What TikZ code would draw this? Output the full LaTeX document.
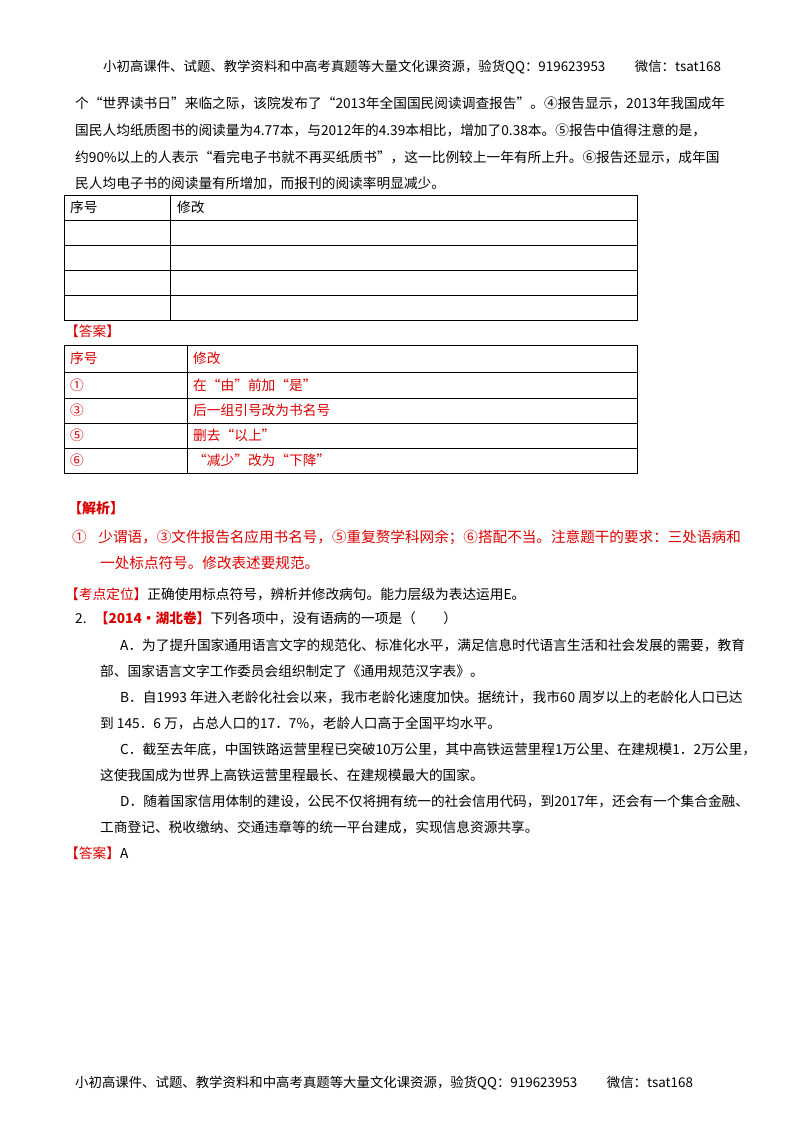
\documentclass[tikz,border=0pt]{standalone}
\usepackage{fontspec}
\setmainfont{Noto Sans CJK SC}
\newcommand{\fl}[2]{#2}
\begin{document}
\begin{tikzpicture}[x=1pt,y=-1pt,
  t/.style={anchor=west,inner sep=0pt,font=\fontsize{13.7}{14}\selectfont},
  r/.style={t,text=red!85!black},
  tl/.style={line width=0.6pt}]
\useasboundingbox (0,0) rectangle (800,1132);
\node[t,font=\fontsize{13.4}{14}\selectfont] (hd) at (103,67) {小初高课件、试题、教学资料和中高考真题等大量文化课资源，验货QQ：919623953\hspace{2.2em}微信：tsat168};
\node[t] (p1) at (75,103) {个“世界读书日”来临之际，该院发布了“2013年全国国民阅读调查报告”。④报告显示，2013年我国成年};
\node[t] (p2) at (75,130) {国民人均纸质图书的阅读量为4.77本，与2012年的4.39本相比，增加了0.38本。⑤报告中值得注意的是，};
\node[t] (p3) at (75,157) {约90\%以上的人表示“看完电子书就不再买纸质书”，这一比例较上一年有所上升。⑥报告还显示，成年国};
\node[t] (p4) at (75,183) {民人均电子书的阅读量有所增加，而报刊的阅读率明显减少。};
% table 1
\draw[tl] (64,195) rectangle (637,320);
\foreach \y in {220,245,270,295} \draw[tl] (64,\y) -- (637,\y);
\draw[tl] (170,195) -- (170,320);
\node[t] (h1) at (70,207) {序号};
\node[t] (h2) at (177,207) {修改};
\node[r] (a1) at (65,331) {【答案】};
% table 2
\draw[line width=1pt] (64,345) rectangle (637,473);
\foreach \y in {372,398,423,448} \draw[line width=1pt] (64,\y) -- (637,\y);
\draw[line width=1pt] (187,345) -- (187,473);
\node[r] at (70,358) {序号};
\node[r] at (193,358) {修改};
\node[r] at (70,385) {①};
\node[r] at (193,385) {在“由”前加“是”};
\node[r] at (70,410) {③};
\node[r] at (193,410) {后一组引号改为书名号};
\node[r] at (70,435) {⑤};
\node[r] at (193,435) {删去“以上”};
\node[r] at (70,460) {⑥};
\node[r] at (193,460) {“减少”改为“下降”};
\node[r,font=\fontsize{14}{15}\selectfont\bfseries] (jx) at (68,508) {【解析】};
\node[r,font=\fontsize{14.6}{15}\selectfont] (j1) at (72,537) {①\hspace{0.8em}少谓语，③文件报告名应用书名号，⑤重复赘学科网余；⑥搭配不当。注意题干的要求：三处语病和};
\node[r,font=\fontsize{14.6}{15}\selectfont] (j2) at (100,563) {一处标点符号。修改表述要规范。};
\node[t] (kd) at (65,594) {\textcolor{red!85!black}{【考点定位】}正确使用标点符号，辨析并修改病句。能力层级为表达运用E。};
\node[t] (q2) at (75,618) {2.\hspace{0.6em}\textcolor{red!85!black}{\bfseries【2014·湖北卷】}下列各项中，没有语病的一项是（\hspace{2em}）};
\node[t] at (120,645) {A．为了提升国家通用语言文字的规范化、标准化水平，满足信息时代语言生活和社会发展的需要，教育};
\node[t] at (100,671) {部、国家语言文字工作委员会组织制定了《通用规范汉字表》。};
\node[t] at (120,697) {B．自1993 年进入老龄化社会以来，我市老龄化速度加快。据统计，我市60 周岁以上的老龄化人口已达};
\node[t] at (100,723) {到 145．6 万，占总人口的17．7\%，老龄人口高于全国平均水平。};
\node[t] at (120,749) {C．截至去年底，中国铁路运营里程已突破10万公里，其中高铁运营里程1万公里、在建规模1．2万公里，};
\node[t] at (100,775) {这使我国成为世界上高铁运营里程最长、在建规模最大的国家。};
\node[t] at (120,801) {D．随着国家信用体制的建设，公民不仅将拥有统一的社会信用代码，到2017年，还会有一个集合金融、};
\node[t] at (100,827) {工商登记、税收缴纳、交通违章等的统一平台建成，实现信息资源共享。};
\node[t] (a2) at (65,853) {\textcolor{red!85!black}{【答案】}A};
\node[t,font=\fontsize{13.4}{14}\selectfont] (ft) at (75,1083) {小初高课件、试题、教学资料和中高考真题等大量文化课资源，验货QQ：919623953\hspace{2.2em}微信：tsat168};
\end{tikzpicture}
\end{document}
